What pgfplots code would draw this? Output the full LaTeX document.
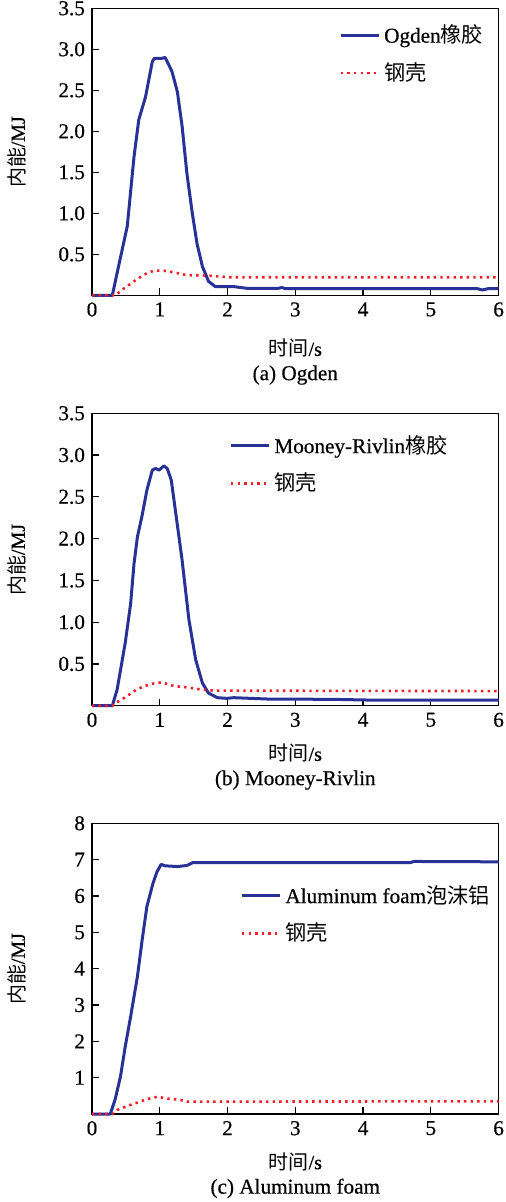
\documentclass[border=0pt]{standalone}
\usepackage{fontspec}
\setmainfont{Liberation Serif}[FakeBold=0.5]
\newfontfamily\cjk{Noto Sans CJK SC}
\usepackage{pgfplots}
\pgfplotsset{compat=1.18}
\definecolor{cblue}{RGB}{40,50,150}
\definecolor{cred}{RGB}{240,30,40}
\newcommand\fs{\fontsize{10.6}{12}\selectfont}
\pgfplotsset{
  myaxis/.style={
    scale only axis, width=203.3pt,
    xmin=0, xmax=6, ymin=0,
    xtick={0,1,2,3,4,5,6},
    tick align=inside, xtick pos=bottom, ytick pos=left,
    major tick length=3.5pt,
    axis line style={line width=0.6pt}, tick style={line width=0.6pt,black},
    every tick label/.append style={font=\fs},
    /pgf/number format/assume math mode=true,
    label style={font=\fs},
    ylabel={{\cjk 内能}/MJ},
    every axis y label/.style={at={(axis description cs:-0.184,0.5)},rotate=90,anchor=center},
    xlabel={{\cjk 时间}/s},
    clip=false,
    legend cell align=left,
    legend style={draw=none, fill=none, font=\fs, row sep=4.5pt, inner sep=0pt},
    legend image code/.code={\draw[##1] (0pt,0pt) -- (19pt,0pt);},
  },
  bl/.style={cblue, line width=1.5pt, line join=round},
  rd/.style={cred, line width=1.3pt, dash pattern=on 1.2pt off 2.1pt},
}
\begin{document}
\begin{tikzpicture}
\useasboundingbox (0,0) rectangle (252.5pt,-601pt);
% (a)
\begin{axis}[myaxis, at={(46pt,-147.65pt)}, anchor=south west, height=143.5pt,
  ymax=3.5, ytick={0.5,1.0,1.5,2.0,2.5,3.0,3.5},
  yticklabel style={/pgf/number format/.cd,fixed,fixed zerofill,precision=1},
  every axis x label/.style={at={(axis description cs:0.5,0)},yshift=-26.5pt,anchor=center},
  legend style={at={(axis description cs:0.607,0.958)},anchor=north west}]
\addplot[bl] coordinates {(0,0) (0.3,0) (0.37,0.27) (0.52,0.84) (0.62,1.69) (0.69,2.14) (0.79,2.42) (0.89,2.85) (0.92,2.89) (1.03,2.89) (1.08,2.90) (1.18,2.73) (1.26,2.48) (1.33,2.06) (1.40,1.49) (1.48,1.0) (1.55,0.63) (1.63,0.35) (1.72,0.17) (1.82,0.106) (2.09,0.106) (2.29,0.085) (2.75,0.085) (2.8,0.095) (2.85,0.082) (5.69,0.08) (5.76,0.065) (5.84,0.08) (6,0.08)};
\addlegendentry{Ogden{\cjk 橡胶}}
\addplot[rd] coordinates {(0,0) (0.35,0) (0.44,0.065) (0.62,0.17) (0.76,0.25) (0.91,0.30) (1.06,0.30) (1.21,0.28) (1.40,0.245) (1.60,0.245) (1.80,0.235) (2.04,0.22) (6,0.22)};
\addlegendentry{{\cjk 钢壳}}
\node at (rel axis cs:0.5,0) [yshift=-39.9pt] {\fs (a) Ogden};
\end{axis}
% (b)
\begin{axis}[myaxis, at={(46pt,-352.85pt)}, anchor=south west, height=146.2pt,
  ymax=3.5, ytick={0.5,1.0,1.5,2.0,2.5,3.0,3.5},
  yticklabel style={/pgf/number format/.cd,fixed,fixed zerofill,precision=1},
  every axis x label/.style={at={(axis description cs:0.5,0)},yshift=-23.8pt,anchor=center},
  legend style={at={(axis description cs:0.337,0.940)},anchor=north west}]
\addplot[bl] coordinates {(0,0) (0.3,0) (0.37,0.19) (0.49,0.75) (0.57,1.22) (0.62,1.70) (0.67,2.02) (0.74,2.28) (0.81,2.58) (0.89,2.82) (0.94,2.84) (0.99,2.82) (1.06,2.87) (1.11,2.84) (1.17,2.70) (1.23,2.34) (1.33,1.74) (1.43,1.03) (1.53,0.55) (1.63,0.27) (1.72,0.15) (1.85,0.096) (1.99,0.088) (2.09,0.096) (2.59,0.08) (3.57,0.076) (4.06,0.068) (6,0.068)};
\addlegendentry{Mooney-Rivlin{\cjk 橡胶}}
\addplot[rd] coordinates {(0,0) (0.3,0) (0.32,0.02) (0.47,0.09) (0.67,0.20) (0.86,0.26) (1.03,0.28) (1.21,0.235) (1.40,0.22) (1.60,0.195) (1.80,0.18) (6,0.175)};
\addlegendentry{{\cjk 钢壳}}
\node at (rel axis cs:0.5,0) [yshift=-37.2pt] {\fs (b) Mooney-Rivlin};
\end{axis}
% (c)
\begin{axis}[myaxis, at={(46pt,-557pt)}, anchor=south west, height=145.35pt,
  ymax=8, ytick={1,2,3,4,5,6,7,8},
  every axis x label/.style={at={(axis description cs:0.5,0)},yshift=-23.8pt,anchor=center},
  legend style={at={(axis description cs:0.364,0.802)},anchor=north west}]
\addplot[bl] coordinates {(0,0) (0.27,0) (0.34,0.39) (0.42,1.03) (0.49,1.85) (0.57,2.68) (0.67,3.78) (0.74,4.79) (0.81,5.71) (0.90,6.35) (0.96,6.67) (1.02,6.87) (1.08,6.83) (1.26,6.81) (1.40,6.84) (1.49,6.92) (4.70,6.92) (4.75,6.95) (6,6.94)};
\addlegendentry{Aluminum foam{\cjk 泡沫铝}}
\addplot[rd] coordinates {(0,0) (0.3,0) (0.37,0.11) (0.52,0.22) (0.71,0.34) (0.81,0.41) (0.98,0.48) (1.08,0.43) (1.30,0.39) (1.40,0.34) (6,0.35)};
\addlegendentry{{\cjk 钢壳}}
\node at (rel axis cs:0.5,0) [yshift=-37.2pt] {\fs (c) Aluminum foam};
\end{axis}
\end{tikzpicture}
\end{document}
